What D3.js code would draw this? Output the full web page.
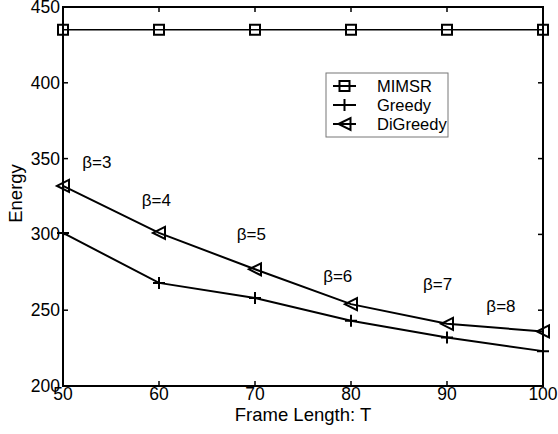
<!DOCTYPE html>
<html>
<head>
<meta charset="utf-8">
<style>
  body { margin: 0; background: #fff; }
  svg { font-family: "Liberation Sans", Arial, sans-serif; }
</style>
</head>
<body>
<svg width="558" height="434"></svg>
<script src="https://d3js.org/d3.v7.min.js"></script>
<script>
var frameLen = [50, 60, 70, 80, 90, 100];
var mimsr = [435, 435, 435, 435, 435, 435];
var greedy = [301, 268, 258, 243, 232, 223];
var diGreedy = [332, 301, 277, 254, 241, 236];
var betaLabels = ["β=3", "β=4", "β=5", "β=6", "β=7", "β=8"];
var betaPos = [[52, 344], [58.2, 319], [68.1, 296.3], [77.1, 268.8], [87.5, 263.3], [94.1, 249]];
var xTicks = [50, 60, 70, 80, 90, 100];
var yTicks = [200, 250, 300, 350, 400, 450];

var svg = d3.select("svg");
var x = d3.scaleLinear().domain([50, 100]).range([63, 543]);
var y = d3.scaleLinear().domain([200, 450]).range([386, 7]);

var g = svg.append("g");

// box with inward ticks
g.append("rect").attr("x", 63).attr("y", 7).attr("width", 480).attr("height", 379)
  .attr("fill", "none").attr("stroke", "#000").attr("stroke-width", 2);

xTicks.forEach(function(t) {
  g.append("line").attr("x1", x(t)).attr("x2", x(t)).attr("y1", 386).attr("y2", 381).attr("stroke", "#000").attr("stroke-width", 1.5);
  g.append("line").attr("x1", x(t)).attr("x2", x(t)).attr("y1", 7).attr("y2", 12).attr("stroke", "#000").attr("stroke-width", 1.5);
  g.append("text").attr("x", x(t)).attr("y", 400).attr("text-anchor", "middle")
    .attr("font-size", 17.5).text(t);
});
yTicks.forEach(function(t) {
  g.append("line").attr("x1", 63).attr("x2", 68).attr("y1", y(t)).attr("y2", y(t)).attr("stroke", "#000").attr("stroke-width", 1.5);
  g.append("line").attr("x1", 543).attr("x2", 538).attr("y1", y(t)).attr("y2", y(t)).attr("stroke", "#000").attr("stroke-width", 1.5);
  g.append("text").attr("x", 60).attr("y", y(t) + 6).attr("text-anchor", "end")
    .attr("font-size", 17.5).text(t);
});

g.append("text").attr("x", x(75)).attr("y", 421).attr("text-anchor", "middle")
  .attr("font-size", 18.5).text("Frame Length: T");
g.append("text").attr("transform", "translate(22," + y(327) + ") rotate(-90)")
  .attr("text-anchor", "middle").attr("font-size", 18.5).text("Energy");

var line = d3.line().x(function(d) { return x(d[0]); }).y(function(d) { return y(d[1]); });
function pts(vals) { return frameLen.map(function(f, i) { return [f, vals[i]]; }); }

function square(px, py) {
  return "M" + (px - 5) + "," + (py - 5) + "h10v10h-10z";
}
function plus(px, py) {
  return "M" + (px - 6) + "," + py + "h12M" + px + "," + (py - 6) + "v12";
}
function tri(px, py) {
  return "M" + (px - 6) + "," + py + "L" + (px + 6) + "," + (py - 6) + "L" + (px + 6) + "," + (py + 6) + "Z";
}

var series = [
  { name: "MIMSR", vals: mimsr, marker: square, w: 1.5 },
  { name: "Greedy", vals: greedy, marker: plus, w: 2 },
  { name: "DiGreedy", vals: diGreedy, marker: tri, w: 2 }
];

series.forEach(function(s) {
  g.append("path").attr("d", line(pts(s.vals))).attr("fill", "none")
    .attr("stroke", "#000").attr("stroke-width", s.w);
  pts(s.vals).forEach(function(p) {
    g.append("path").attr("d", s.marker(x(p[0]), y(p[1])))
      .attr("fill", "none").attr("stroke", "#000").attr("stroke-width", 2);
  });
});

betaLabels.forEach(function(b, i) {
  g.append("text").attr("x", x(betaPos[i][0])).attr("y", y(betaPos[i][1]))
    .attr("font-size", 17).text(b);
});

// legend
var lg = svg.append("g");
lg.append("rect").attr("x", 326).attr("y", 73).attr("width", 122).attr("height", 64)
  .attr("fill", "#fff").attr("stroke", "#777").attr("stroke-width", 1);
series.forEach(function(s, i) {
  var ly = 86 + i * 19;
  lg.append("line").attr("x1", 333).attr("x2", 356).attr("y1", ly).attr("y2", ly)
    .attr("stroke", "#000").attr("stroke-width", 2);
  lg.append("path").attr("d", s.marker(344.5, ly)).attr("fill", "none")
    .attr("stroke", "#000").attr("stroke-width", 2);
  lg.append("text").attr("x", 377).attr("y", ly + 6).attr("font-size", 16.5).text(s.name);
});
</script>
</body>
</html>
